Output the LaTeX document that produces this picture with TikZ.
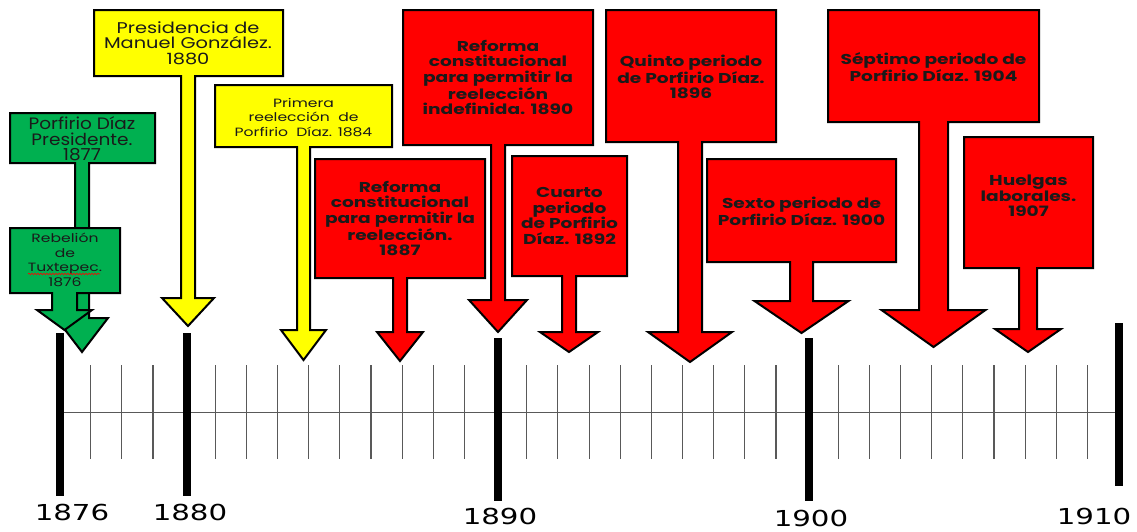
\documentclass[tikz,border=0pt]{standalone}
\usepackage{fontspec}
\setmainfont{DejaVu Sans}
\newfontfamily\cgw{Poppins}[FakeStretch=1.3]
\newfontfamily\cgm{Poppins}[FakeStretch=1.25]
\newfontfamily\cgn{Poppins}[FakeStretch=1.12]
\newfontfamily\yrfont{DejaVu Sans}[FakeStretch=1.33]
\usetikzlibrary{decorations.pathmorphing}
\definecolor{cgreen}{HTML}{00B050}
\definecolor{cyellow}{HTML}{FFFF00}
\definecolor{cred}{HTML}{FF0000}
\definecolor{ctext}{HTML}{1A1A1A}
% callout outline: x1 y1 x2 y2 stemcenter stemhalf heady headhalf tipy
\newcommand\co[9]{(#1,#2) -- (#3,#2) -- (#3,#4) -- ({#5+#6},#4) -- ({#5+#6},#7) -- ({#5+#8},#7) -- (#5,#9) -- ({#5-#8},#7) -- ({#5-#6},#7) -- ({#5-#6},#4) -- (#1,#4) -- cycle}
\tikzset{
  calloutbox/.style={draw=black, line width=2pt, line join=miter, miter limit=4},
  greenbox/.style={calloutbox, fill=cgreen},
  yellowbox/.style={calloutbox, fill=cyellow},
  redbox/.style={calloutbox, fill=cred},
  redtxt/.style={font=\cgw\bfseries\fontsize{14.3}{15.5}\selectfont, align=center, inner sep=0pt, text=ctext},
  greentxt/.style={font=\cgn\fontsize{16.5}{15.5}\selectfont, align=center, inner sep=0pt, text=ctext},
  yellowtxt/.style={font=\cgm\fontsize{15.5}{15.5}\selectfont, align=center, inner sep=0pt, text=ctext},
  smalltxt/.style={font=\cgw\fontsize{12}{14.5}\selectfont, align=center, inner sep=0pt, text=ctext},
  yearlbl/.style={font=\yrfont\fontsize{22}{22}\selectfont, inner sep=0pt, text=black},
  minortick/.style={draw=black!65, line width=1.1pt},
  majorbar/.style={draw=black, line width=8pt},
  axisline/.style={draw=black!65, line width=1pt},
}
\begin{document}
\begin{tikzpicture}[x=1pt,y=-1pt]
\useasboundingbox (0,0) rectangle (1137,531);
% ---- callouts ----
\draw[greenbox] \co{10}{113}{155}{163}{82}{7}{318}{26}{352};
\draw[greenbox] \co{10}{228}{120}{293}{64.5}{12.5}{310}{27.5}{330};
\draw[yellowbox] \co{94}{10}{283}{76}{188}{7}{298}{26}{326};
\draw[yellowbox] \co{215}{85}{392}{147}{303.5}{6.5}{330}{22.5}{360};
\draw[redbox] \co{315}{159}{485}{278}{400}{7}{332}{23}{361};
\draw[redbox] \co{403}{10}{593}{145}{498}{7}{300}{29}{332};
\draw[redbox] \co{512}{156}{627}{276}{569}{7}{332}{29}{352};
\draw[redbox] \co{606}{10}{776}{142}{690}{12}{332}{42}{362};
\draw[redbox] \co{707}{159}{896}{262}{801.5}{11.5}{301}{47}{333};
\draw[redbox] \co{828}{10}{1039}{122}{933.5}{14.5}{310}{52}{347};
\draw[redbox] \co{964}{137}{1093}{268}{1028}{9}{329}{33}{352};
% ---- callout texts ----
\node[greentxt] (t1877) at (82,139) {Porfirio Díaz\\Presidente.\\1877};
\node[smalltxt] (t1876) at (65,260) {Rebelión\\de\\Tuxtepec.\\1876};
\draw[cred, line width=0.6pt, decorate, decoration={snake, amplitude=0.8pt, segment length=3pt}] (28,274) -- (100,274);
\node[yellowtxt] (t1880) at (188,43) {Presidencia de\\Manuel González.\\1880};
\node[smalltxt] (t1884) at (303.5,117.5) {Primera\\reelección~~de\\Porfirio~~Díaz. 1884};
\node[redtxt] (t1887) at (400,218.5) {Reforma\\constitucional\\para permitir la\\reelección.\\1887};
\node[redtxt] (t1890) at (498,77.5) {Reforma\\constitucional\\para permitir la\\reelección\\indefinida. 1890};
\node[redtxt] (t1892) at (569.5,216) {Cuarto\\periodo\\de Porfirio\\Díaz. 1892};
\node[redtxt] (t1896) at (691,77) {Quinto periodo\\de Porfirio Díaz.\\1896};
\node[redtxt] (t1900) at (801.5,211) {Sexto periodo de\\Porfirio Díaz. 1900};
\node[redtxt] (t1904) at (933.5,67) {Séptimo periodo de\\Porfirio Díaz. 1904};
\node[redtxt] (t1907) at (1028.5,196) {Huelgas\\laborales.\\1907};
% ---- timeline ----
\coordinate (axL) at (60,412);
\coordinate (axR) at (1119,412);
\draw[axisline] (axL) -- (axR);
\foreach \yr in {1877,1878,1879,1881,1882,1883,1884,1885,1886,1887,1888,1889,1891,1892,1893,1894,1895,1896,1897,1898,1899,1901,1902,1903,1904,1905,1906,1907,1908,1909}{
  \draw[minortick] ({59.5+31.15*(\yr-1876)},365) -- ({59.5+31.15*(\yr-1876)},459);
}
\draw[majorbar] (60,333) -- (60,496);
\draw[majorbar] (187,333) -- (187,496);
\draw[majorbar] (498,338) -- (498,501);
\draw[majorbar] (809,338) -- (809,501);
\draw[majorbar] (1119,323) -- (1119,486);
\node[yearlbl] (y1876) at (72,512) {1876};
\node[yearlbl] (y1880) at (190,512) {1880};
\node[yearlbl] (y1890) at (500,516) {1890};
\node[yearlbl] (y1900) at (811,518) {1900};
\node[yearlbl] (y1910) at (1094,516) {1910};
\end{tikzpicture}
\end{document}
